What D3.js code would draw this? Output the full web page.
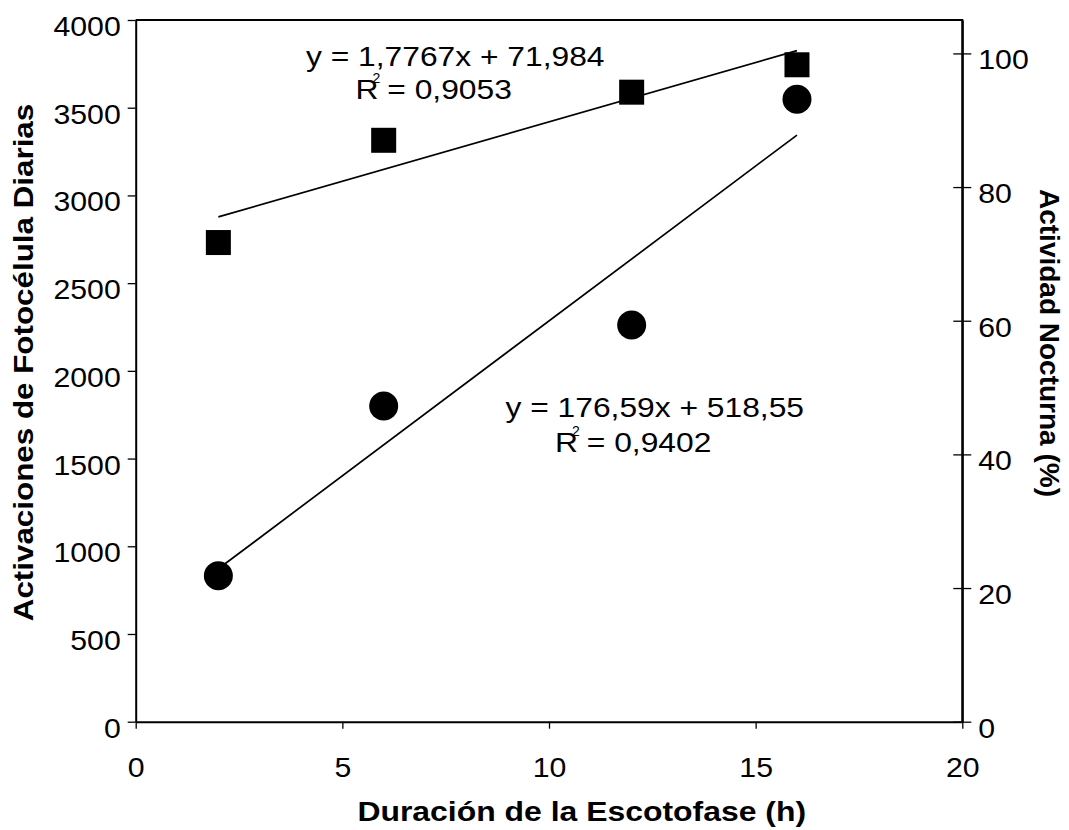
<!DOCTYPE html>
<html>
<head>
<meta charset="utf-8">
<script src="https://cdn.jsdelivr.net/npm/d3@7"></script>
<style>
  html, body { margin: 0; padding: 0; background: #fff; }
  svg { display: block; }
  text { font-family: "Liberation Sans", Arial, sans-serif; fill: #000; }
</style>
</head>
<body>
<svg id="chart" width="1069" height="830"></svg>
<script>
// Escotofase duration (h)
const hours = [2, 6, 12, 16];
// Daily photocell activations (left axis, circles)
const activations = [832, 1799, 2261, 3548];
// Nocturnal activity % (right axis, squares)
const nocturnal = [71.7, 87.0, 94.2, 98.3];

// Linear fits shown on the chart: [slope, intercept]
const fitActivations = [176.59, 518.55];
const fitNocturnal = [1.7767, 71.984];

const xTicks = [0, 5, 10, 15, 20];
const leftTicks = [0, 500, 1000, 1500, 2000, 2500, 3000, 3500, 4000];
const rightTicks = [0, 20, 40, 60, 80, 100];

const xTitle = "Duración de la Escotofase (h)";
const leftTitle = "Activaciones de Fotocélula Diarias";
const rightTitle = "Actividad Nocturna (%)";

const eqNocturnal = ["y = 1,7767x + 71,984", "R", "2", " = 0,9053"];
const eqActivations = ["y = 176,59x + 518,55", "R", "2", " = 0,9402"];

// ---- layout ----
const plot = { left: 135.7, right: 962.3, top: 20, bottom: 721.7 };
const TICK_SX = 1.08;
const EQ_SX = 1.135;

const svg = d3.select("#chart");

const x = d3.scaleLinear().domain([0, 20]).range([plot.left, plot.right]);
const yL = d3.scaleLinear().domain([0, 4000]).range([plot.bottom, plot.top]);
const yR = d3.scaleLinear().domain([0, 105]).range([plot.bottom, plot.top]);

// plot frame (top and right edges)
svg.append("path")
  .attr("d", `M${plot.left},${plot.top}H${plot.right}V${plot.bottom}`)
  .attr("fill", "none").attr("stroke", "#000").attr("stroke-width", 2);

function styleAxis(g) {
  g.select(".domain").attr("stroke", "#000").attr("stroke-width", 2);
  g.selectAll(".tick line").attr("stroke", "#000").attr("stroke-width", 1.3);
  g.selectAll(".tick text").attr("font-size", 28).attr("fill", "#000")
    .attr("font-family", '"Liberation Sans", Arial, sans-serif');
}

// left axis
const gL = svg.append("g").attr("transform", `translate(${plot.left},0)`)
  .call(d3.axisLeft(yL).tickValues(leftTicks).tickSize(8).tickSizeOuter(0).tickFormat(d3.format("d")));
styleAxis(gL);
gL.selectAll(".tick text").attr("x", null).attr("dy", null)
  .attr("transform", `translate(-15,15.5) scale(${TICK_SX},1)`);

// right axis with crossing ticks
const gR = svg.append("g").attr("transform", `translate(${plot.right},0)`)
  .call(d3.axisRight(yR).tickValues(rightTicks).tickSize(9).tickSizeOuter(0).tickFormat(d3.format("d")));
styleAxis(gR);
gR.selectAll(".tick line").attr("x1", -9).attr("x2", 9);
gR.selectAll(".tick text").attr("x", null).attr("dy", null)
  .attr("transform", `translate(16,15.5) scale(${TICK_SX},1)`);

// bottom axis
const gB = svg.append("g").attr("transform", `translate(0,${plot.bottom})`)
  .call(d3.axisBottom(x).tickValues(xTicks).tickSize(7).tickSizeOuter(0).tickFormat(d3.format("d")));
styleAxis(gB);
gB.selectAll(".tick text").attr("y", null).attr("dy", null)
  .attr("transform", `translate(0,55) scale(${TICK_SX},1)`);

// text helper: position, rotation and horizontal stretch
function label(txt, px, py, opts) {
  const o = Object.assign({ size: 28, weight: "normal", anchor: "start", rot: 0, sx: 1 }, opts || {});
  return svg.append("text")
    .attr("transform", `translate(${px},${py}) rotate(${o.rot}) scale(${o.sx},1)`)
    .attr("font-size", o.size).attr("font-weight", o.weight)
    .attr("text-anchor", o.anchor).text(txt);
}

// axis titles
label(xTitle, 581.7, 821, { weight: "bold", anchor: "middle", sx: 1.14 });
label(leftTitle, 33.3, 362.5, { weight: "bold", anchor: "middle", rot: -90, sx: 1.12 });
label(rightTitle, 1040, 343, { weight: "bold", anchor: "middle", rot: 90, sx: 1.0 });

// trend lines
function fitLine(coef, ys) {
  const xs = d3.extent(hours);
  return svg.append("line")
    .attr("x1", x(xs[0])).attr("y1", ys(coef[0] * xs[0] + coef[1]))
    .attr("x2", x(xs[1])).attr("y2", ys(coef[0] * xs[1] + coef[1]))
    .attr("stroke", "#000").attr("stroke-width", 1.7);
}
fitLine(fitNocturnal, yR);
fitLine(fitActivations, yL);

// markers
const sq = 25;
svg.append("g").selectAll("rect").data(hours).join("rect")
  .attr("x", (d) => x(d) - sq / 2)
  .attr("y", (d, i) => yR(nocturnal[i]) - sq / 2)
  .attr("width", sq).attr("height", sq).attr("fill", "#000");

svg.append("g").selectAll("circle").data(hours).join("circle")
  .attr("cx", (d) => x(d))
  .attr("cy", (d, i) => yL(activations[i]))
  .attr("r", 14.5).attr("fill", "#000");

// equation labels
function equation(parts, px, py, rx, ry) {
  label(parts[0], px, py, { sx: EQ_SX });
  const t = label(parts[1], rx, ry, { sx: EQ_SX });
  t.append("tspan").text(parts[3]);
  label(parts[2], rx + 17, ry - 16, { size: 14 });
}
equation(eqNocturnal, 306, 66, 355.5, 99);
equation(eqActivations, 505.5, 416.7, 555, 451.7);
</script>
</body>
</html>
